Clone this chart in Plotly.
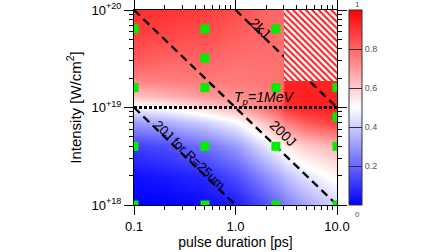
import plotly.graph_objects as go

# ---- data ----
pulse_ps = [0.1, 0.2, 0.5, 1.0, 2.0, 2.9, 3.1, 5.0, 10.0]
intensity = [1e18, 2e18, 4e18, 7e18, 1e19, 1.3e19, 1.85e19, 3e19, 6e19, 1e20]
# normalized value (0..1), rows follow `intensity`, columns follow `pulse_ps`
zvals = [
    [0.00, 0.00, 0.02, 0.05, 0.15, 0.22, 0.24, 0.32, 0.42],
    [0.03, 0.05, 0.08, 0.15, 0.28, 0.35, 0.37, 0.45, 0.52],
    [0.12, 0.15, 0.22, 0.30, 0.45, 0.52, 0.54, 0.60, 0.65],
    [0.30, 0.33, 0.40, 0.48, 0.62, 0.72, 0.74, 0.82, 0.88],
    [0.47, 0.50, 0.58, 0.65, 0.78, 0.85, 0.90, 0.93, 0.94],
    [0.62, 0.65, 0.70, 0.72, 0.75, 0.78, 0.93, 0.94, 0.94],
    [0.74, 0.75, 0.76, 0.76, 0.77, 0.78, 0.93, 0.93, 0.93],
    [0.82, 0.80, 0.80, 0.78, 0.78, 0.78, 0.80, 0.80, 0.80],
    [0.88, 0.87, 0.85, 0.82, 0.80, 0.78, 0.80, 0.80, 0.80],
    [0.91, 0.90, 0.88, 0.85, 0.80, 0.80, 0.80, 0.80, 0.80],
]

# simulation points (green squares)
sim_tau = [0.1, 0.1, 0.1, 0.1, 0.5, 0.5, 0.5, 0.5, 0.5, 2.5, 2.5, 2.5, 2.5, 10, 10, 10, 10]
sim_I = [1e18, 4e18, 1.6e19, 6.4e19, 1e18, 4e18, 1.6e19, 3.2e19, 6.4e19,
         1e18, 4e18, 1.6e19, 6.4e19, 1e18, 4e18, 8e18, 1.6e19]

# constant-energy lines
line20_tau, line20_I = [0.1, 1.0], [1e19, 1e18]
line200_tau, line200_I = [0.1, 10.0], [1e20, 1e18]
line2k_tau, line2k_I = [1.0, 10.0], [1e20, 1e19]
# Tp = 1 MeV line
tp_tau, tp_I = [0.1, 10.0], [1e19, 1e19]
# hatched (no data) region
hatch_tau = [3.0, 10.0, 10.0, 3.0, 3.0]
hatch_I = [1.87e19, 1.87e19, 1e20, 1e20, 1.87e19]

x_tickvals = [0.1, 1, 10]
x_ticktext = ["0.1", "1.0", "10.0"]
x_minor = [0.2, 0.3, 0.4, 0.5, 0.6, 0.7, 0.8, 0.9, 2, 3, 4, 5, 6, 7, 8, 9]
y_tickvals = [1e18, 1e19, 1e20]
y_ticktext = ["10<sup>+18</sup>", "10<sup>+19</sup>", "10<sup>+20</sup>"]
y_minor = [2e18, 3e18, 4e18, 5e18, 6e18, 7e18, 8e18, 9e18,
           2e19, 3e19, 4e19, 5e19, 6e19, 7e19, 8e19, 9e19]
cb_tickvals = [0.2, 0.4, 0.6, 0.8]
cb_ticktext = ["0.2", "0.4", "0.6", "0.8"]

FONT = "Arial, Liberation Sans, sans-serif"

fig = go.Figure()
fig.add_trace(go.Heatmap(
    x=pulse_ps, y=intensity, z=zvals, zmin=0, zmax=1, zsmooth="best",
    colorscale=[[0, "rgb(0,0,255)"], [0.5, "rgb(255,255,255)"], [1, "rgb(255,0,0)"]],
    colorbar=dict(
        x=1.059, xanchor="left", xref="paper", y=0.5, yanchor="middle", len=1.0,
        thickness=13, outlinewidth=1, outlinecolor="#333",
        tickvals=cb_tickvals, ticktext=cb_ticktext, ticks="inside", ticklen=13,
        tickwidth=1, tickcolor="#333", tickfont=dict(size=9, color="#555", family=FONT),
        xpad=0, ypad=0,
    ),
    showscale=True, hoverinfo="skip",
))

dash_style = dict(color="black", width=2.3, dash="8px,5px")
for xs, ys in [(line20_tau, line20_I), (line200_tau, line200_I), (line2k_tau, line2k_I)]:
    fig.add_trace(go.Scatter(x=xs, y=ys, mode="lines", line=dash_style,
                             showlegend=False, hoverinfo="skip"))
fig.add_trace(go.Scatter(x=tp_tau, y=tp_I, mode="lines",
                         line=dict(color="black", width=3, dash="3px,2px"),
                         showlegend=False, hoverinfo="skip"))

fig.add_trace(go.Scatter(
    x=hatch_tau, y=hatch_I, mode="lines", fill="toself", line=dict(width=0),
    fillcolor="white",
    fillpattern=dict(shape="\\", fgcolor="rgb(255,20,20)", bgcolor="white",
                     size=4.5, solidity=0.45, fillmode="replace"),
    showlegend=False, hoverinfo="skip"))

fig.add_trace(go.Scatter(
    x=sim_tau, y=sim_I, mode="markers",
    marker=dict(symbol="square", size=9, color="#00ee00", line=dict(width=0)),
    showlegend=False, cliponaxis=True, hoverinfo="skip"))

# invisible trace to carry the mirrored top / right axes
fig.add_trace(go.Scatter(x=[0.1, 10], y=[1e18, 1e20], mode="markers", xaxis="x2", yaxis="y2",
                         marker=dict(opacity=0), showlegend=False, hoverinfo="skip"))

ann_font = dict(family=FONT, size=14, color="black")
fig.add_annotation(x=0.241, y=19.815, xref="x", yref="y", text="2kJ", showarrow=False,
                   textangle=44, font=ann_font)
fig.add_annotation(x=0.468, y=18.738, xref="x", yref="y", text="200J", showarrow=False,
                   textangle=44, font=ann_font)
fig.add_annotation(x=-0.458, y=18.513, xref="x", yref="y", text="20J for R=25um",
                   showarrow=False, textangle=44, font=dict(family=FONT, size=13, color="black"))
fig.add_annotation(x=0.281, y=19.097, xref="x", yref="y", text="<i>T<sub>p</sub>=1MeV</i>",
                   showarrow=False, font=ann_font)
# colorbar end labels
fig.add_annotation(xref="paper", yref="paper", x=(357 - 134) / 203, y=1 + 6 / 195,
                   text="1", showarrow=False, xanchor="center", yanchor="middle",
                   font=dict(family=FONT, size=8, color="#555"))
fig.add_annotation(xref="paper", yref="paper", x=(357 - 134) / 203, y=-9 / 195,
                   text="0", showarrow=False, xanchor="center", yanchor="middle",
                   font=dict(family=FONT, size=8, color="#555"))

fig.update_layout(
    width=448, height=252,
    margin=dict(l=134, r=111, t=10, b=47, autoexpand=False),
    paper_bgcolor="white", plot_bgcolor="white",
    font=dict(family=FONT, color="black"),
    showlegend=False,
)

common = dict(type="log", ticks="outside", tickwidth=1, tickcolor="black",
              showline=True, linecolor="black", linewidth=1,
              showgrid=False, zeroline=False)

fig.update_layout(
    xaxis=dict(
        range=[-1, 1], tickvals=x_tickvals, ticktext=x_ticktext, ticklen=9,
        tickfont=dict(size=13, family=FONT),
        minor=dict(tickvals=x_minor, ticks="outside", ticklen=4, tickcolor="black", showgrid=False),
        title=dict(text="pulse duration [ps]", font=dict(size=14, family=FONT), standoff=4),
        **common),
    yaxis=dict(
        range=[18, 20], tickvals=y_tickvals, ticktext=y_ticktext, ticklen=9,
        tickfont=dict(size=13, family=FONT),
        minor=dict(tickvals=y_minor, ticks="outside", ticklen=4, tickcolor="black", showgrid=False),
        title=dict(text="Intensity [W/cm<sup>2</sup>]", font=dict(size=15, family=FONT), standoff=6),
        **common),
    xaxis2=dict(
        overlaying="x", side="top", anchor="y2", range=[-1, 1], tickvals=x_tickvals,
        ticklen=9, showticklabels=False,
        minor=dict(tickvals=x_minor, ticks="outside", ticklen=4, tickcolor="black", showgrid=False),
        **common),
    yaxis2=dict(
        overlaying="y", side="right", anchor="x2", range=[18, 20], tickvals=y_tickvals,
        ticklen=9, showticklabels=False,
        minor=dict(tickvals=y_minor, ticks="outside", ticklen=4, tickcolor="black", showgrid=False),
        **common),
)

fig.write_html("out.html", config={"displayModeBar": False},
               post_script="document.body.style.margin='0';document.body.style.padding='0';")
